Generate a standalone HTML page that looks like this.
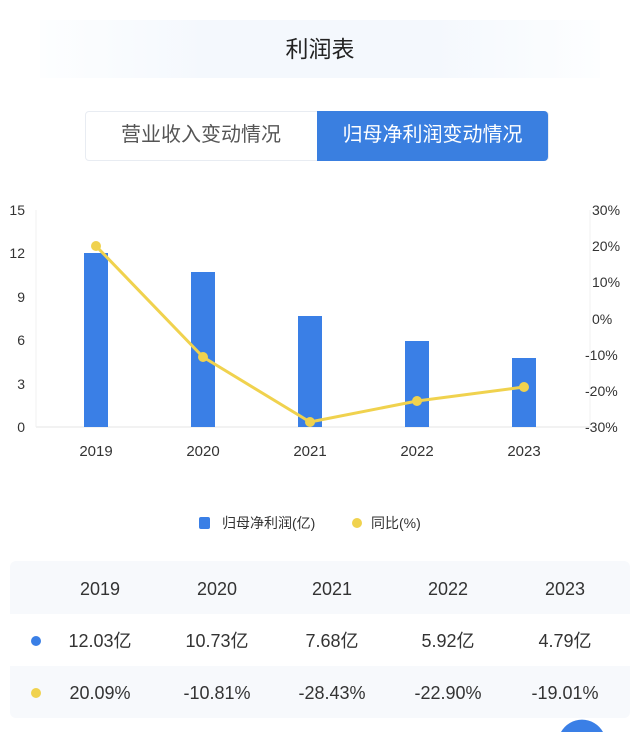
<!DOCTYPE html>
<html><head><meta charset="utf-8"><style>
body{margin:0;width:640px;height:732px;background:#fff;font-family:"Liberation Sans","Noto Sans CJK SC",sans-serif;position:relative;overflow:hidden;color:#333}
.abs{position:absolute}
</style></head><body>
<div class="abs" style="left:40px;top:20px;width:560px;height:58px;background:linear-gradient(90deg,#fdfeff,#f4f8fd 30%,#f4f8fd 70%,#fdfeff)"></div>
<div class="abs" style="left:0;width:640px;top:30px;text-align:center;font-size:23px;color:#222">利润表</div>
<div class="abs" style="left:85px;top:111px;width:462px;height:48px;border:1px solid #e8ecf2;border-radius:4px;background:#fff"></div>
<div class="abs" style="left:85px;top:111px;width:232px;height:50px;line-height:48px;text-align:center;font-size:20px;color:#555">营业收入变动情况</div>
<div class="abs" style="left:317px;top:111px;width:231px;height:50px;line-height:48px;text-align:center;font-size:20px;color:#fff;background:#3a7fe0;border-radius:0 4px 4px 0">归母净利润变动情况</div>
<svg class="abs" style="left:0;top:0" width="640" height="732" font-family="Liberation Sans, sans-serif">
<line x1="36" y1="427" x2="590" y2="427" stroke="#e6e6e6"/>
<line x1="36" y1="210" x2="36" y2="427" stroke="#f0f0f0"/>
<line x1="590" y1="210" x2="590" y2="427" stroke="#f0f0f0"/>
<g font-size="14" fill="#333" text-anchor="end">
<text x="25" y="215">15</text><text x="25" y="258">12</text><text x="25" y="302">9</text><text x="25" y="345">6</text><text x="25" y="389">3</text><text x="25" y="432">0</text>
</g>
<g font-size="14" fill="#333" text-anchor="start">
<text x="592" y="215">30%</text><text x="592" y="251">20%</text><text x="592" y="287">10%</text><text x="592" y="324">0%</text><text x="585" y="360">-10%</text><text x="585" y="396">-20%</text><text x="585" y="432">-30%</text>
</g>
<g fill="#3a7fe6">
<rect x="84" y="253" width="24" height="174"/>
<rect x="191" y="272" width="24" height="155"/>
<rect x="298" y="316" width="24" height="111"/>
<rect x="405" y="341" width="24" height="86"/>
<rect x="512" y="358" width="24" height="69"/>
</g>
<polyline points="96,246 203,357 310,422 417,401 524,387" fill="none" stroke="#f0d24e" stroke-width="3" stroke-linejoin="round"/>
<g fill="#f0d24e"><circle cx="96" cy="246" r="5"/><circle cx="203" cy="357" r="5"/><circle cx="310" cy="422" r="5"/><circle cx="417" cy="401" r="5"/><circle cx="524" cy="387" r="5"/></g>
<g font-size="15" fill="#333" text-anchor="middle">
<text x="96" y="456">2019</text><text x="203" y="456">2020</text><text x="310" y="456">2021</text><text x="417" y="456">2022</text><text x="524" y="456">2023</text>
</g>
<rect x="199" y="517" width="11" height="12" rx="2" fill="#3a7fe6"/>
<text x="222" y="528" font-size="14" fill="#333" font-family="Liberation Sans, Noto Sans CJK SC, sans-serif">归母净利润(亿)</text>
<circle cx="357" cy="523" r="5" fill="#f0d24e"/>
<text x="371" y="528" font-size="14" fill="#333" font-family="Liberation Sans, Noto Sans CJK SC, sans-serif">同比(%)</text>
</svg>
<div class="abs" style="left:10px;top:561px;width:620px;height:157px;background:#f7f9fc;border-radius:6px"></div>
<div class="abs" style="left:10px;top:614px;width:620px;height:52px;background:#fff"></div>
<svg class="abs" style="left:0;top:0" width="640" height="732" font-family="Liberation Sans, Noto Sans CJK SC, sans-serif">
<g font-size="18" fill="#333" text-anchor="middle">
<text x="100" y="595">2019</text><text x="217" y="595">2020</text><text x="332" y="595">2021</text><text x="448" y="595">2022</text><text x="565" y="595">2023</text>
<text x="100" y="647">12.03亿</text><text x="217" y="647">10.73亿</text><text x="332" y="647">7.68亿</text><text x="448" y="647">5.92亿</text><text x="565" y="647">4.79亿</text>
<text x="100" y="699">20.09%</text><text x="217" y="699">-10.81%</text><text x="332" y="699">-28.43%</text><text x="448" y="699">-22.90%</text><text x="565" y="699">-19.01%</text>
</g>
<circle cx="36" cy="641" r="5" fill="#3a7fe6"/>
<circle cx="36" cy="693" r="5" fill="#f0d24e"/>
<path d="M561,732 A24,24 0 0 1 603,732 Z" fill="#3a7fe6"/>
</svg>
</body></html>
